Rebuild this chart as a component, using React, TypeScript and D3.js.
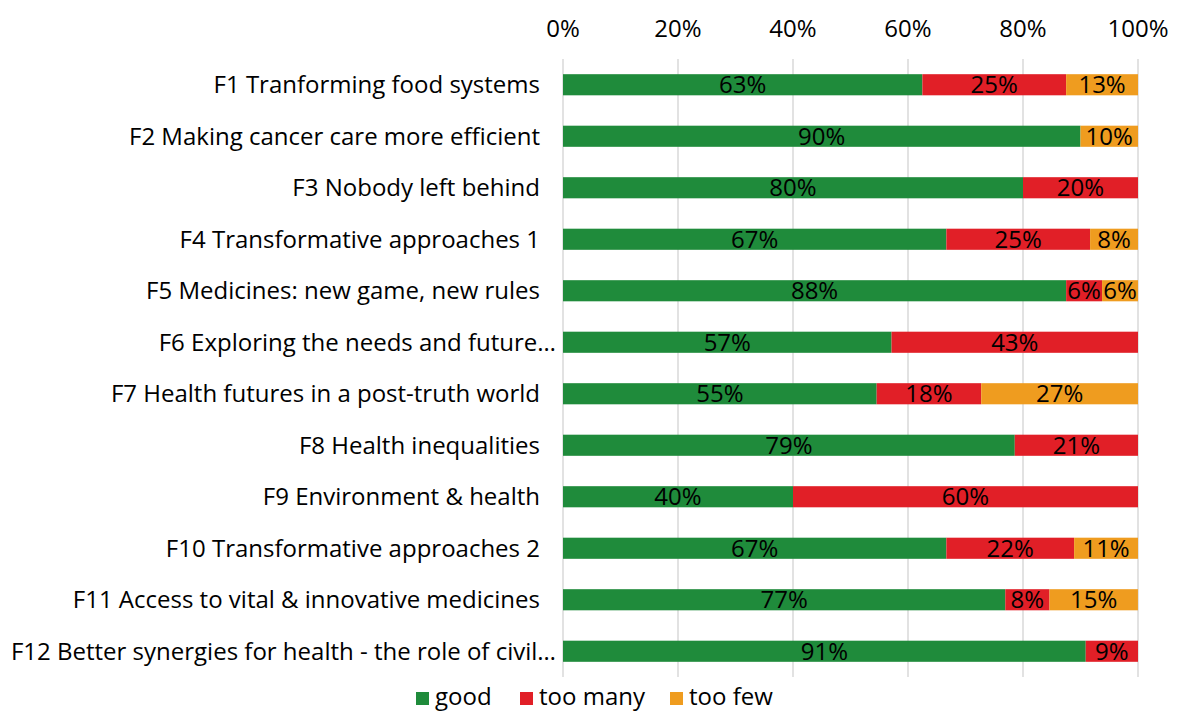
import React from 'react';
import * as d3 from 'd3';

// Data

const categories: string[] = [
    'F1 Tranforming food systems',
    'F2 Making cancer care more efficient',
    'F3 Nobody left behind',
    'F4 Transformative approaches 1',
    'F5 Medicines: new game, new rules',
    'F6 Exploring the needs and future…',
    'F7 Health futures in a post-truth world',
    'F8 Health inequalities',
    'F9 Environment & health',
    'F10 Transformative approaches 2',
    'F11 Access to vital & innovative medicines',
    'F12 Better synergies for health - the role of civil…',
];

const good: number[] = [62.5, 90, 80, 66.67, 87.5, 57.14, 54.55, 78.57, 40, 66.67, 76.92, 90.91];
const tooMany: number[] = [25, 0, 20, 25, 6.25, 42.86, 18.18, 21.43, 60, 22.22, 7.69, 9.09];
const tooFew: number[] = [12.5, 10, 0, 8.33, 6.25, 0, 27.27, 0, 0, 11.11, 15.38, 0];

const seriesNames: string[] = ['good', 'too many', 'too few'];
const seriesColors: string[] = ['#1f8b3b', '#e11f27', '#ef9c1f'];
const ticks: number[] = [0, 20, 40, 60, 80, 100];

const FONT = '"Open Sans", Lato, sans-serif';
const FS = 24;

function App() {
    const width = 1177;
    const height = 711;
    const x = d3.scaleLinear().domain([0, 100]).range([563, 1138]);
    const y = d3.scaleBand<string>().domain(categories).range([59, 677]).paddingInner(0.59).paddingOuter(0.295);

    const rows = categories.map((c, i) => ({ cat: c, good: good[i], many: tooMany[i], few: tooFew[i] }));
    const stack = d3.stack<any>().keys(['good', 'many', 'few'])(rows);

    const legendItems = [
        { x: 416, label: seriesNames[0], color: seriesColors[0] },
        { x: 520, label: seriesNames[1], color: seriesColors[1] },
        { x: 670, label: seriesNames[2], color: seriesColors[2] },
    ];

    return (
        <svg width={width} height={height} style={{ position: 'absolute', left: 0, top: 0, background: '#fff' }}
            fontFamily={FONT}>
            {/* gridlines */}
            <g stroke="#d9d9d9" strokeWidth={1.5}>
                {ticks.map((t) => (
                    <line key={t} x1={x(t)} x2={x(t)} y1={59} y2={677} />
                ))}
            </g>
            {/* top axis labels */}
            <g fontSize={FS} fill="#000" textAnchor="middle">
                {ticks.map((t) => (
                    <text key={t} x={x(t)} y={37}>{t}%</text>
                ))}
            </g>
            {/* category labels */}
            <g fontSize={FS} fill="#000">
                {categories.map((c) => {
                    const trunc = c.endsWith('…');
                    return (
                        <text key={c} x={trunc ? 556 : 540} y={(y(c) ?? 0) + y.bandwidth() / 2} dy="0.35em" textAnchor="end">{c}</text>
                    );
                })}
            </g>
            {/* bars */}
            {stack.map((s, si) => (
                <g key={s.key} fill={seriesColors[si]}>
                    {s.map((d: any) => {
                        const w = x(d[1]) - x(d[0]);
                        if (w <= 0) return null;
                        return (
                            <rect key={d.data.cat} x={x(d[0])} y={y(d.data.cat)} width={w} height={y.bandwidth()} />
                        );
                    })}
                </g>
            ))}
            {/* value labels */}
            <g fontSize={FS} fill="#000" textAnchor="middle">
                {stack.map((s) => s.map((d: any) => {
                    const v = d[1] - d[0];
                    if (v <= 0) return null;
                    return (
                        <text key={s.key + d.data.cat} x={(x(d[0]) + x(d[1])) / 2} y={(y(d.data.cat) ?? 0) + y.bandwidth() / 2}
                            dy="0.36em">{Math.round(v)}%</text>
                    );
                }))}
            </g>
            {/* legend */}
            <g fontSize={FS} fill="#000">
                {legendItems.map((l) => (
                    <g key={l.label}>
                        <rect x={l.x} y={692} width={13} height={13} fill={l.color} />
                        <text x={l.x + 19} y={704.5}>{l.label}</text>
                    </g>
                ))}
            </g>
        </svg>
    );
}

export default App;
